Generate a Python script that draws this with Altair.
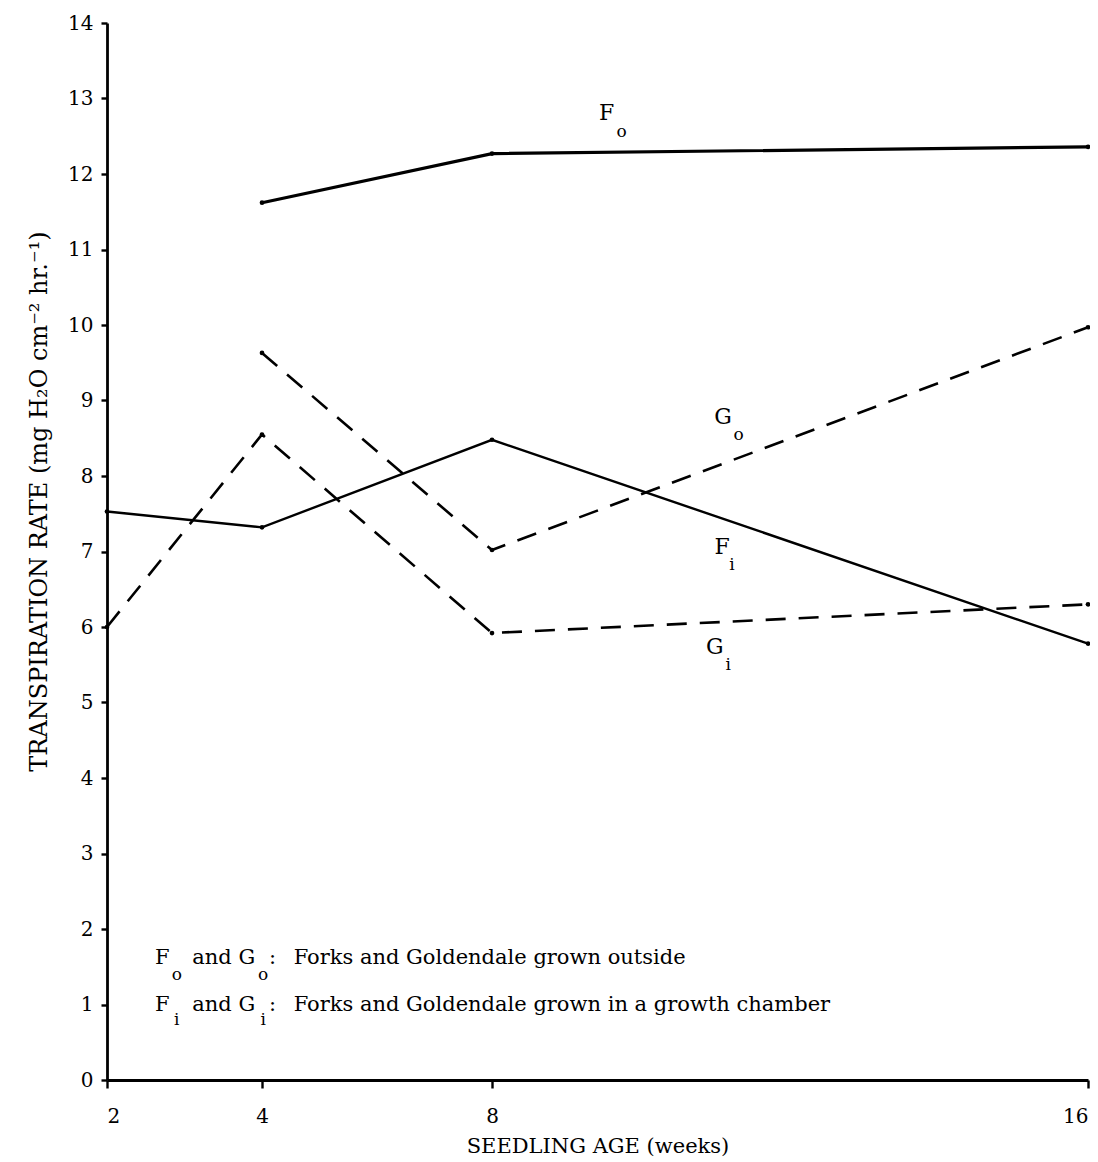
import altair as alt
import pandas as pd

# ---- data ----
fo_x = [4, 8, 16]
fo_y = [11.62, 12.27, 12.36]
go_x = [4, 8, 16]
go_y = [9.63, 7.02, 9.97]
fi_x = [2, 4, 8, 16]
fi_y = [7.53, 7.32, 8.48, 5.78]
gi_x = [2, 4, 8, 16]
gi_y = [6.00, 8.55, 5.92, 6.30]

x_ticks = [2, 4, 8, 16]
y_ticks = list(range(0, 15))

# series annotations (main letter and subscript)
lab_text = ["F", "G", "F", "G"]
lab_x = [9.54, 11.10, 11.09, 10.99]
lab_y = [12.81, 8.78, 7.06, 5.74]
sub_text = ["o", "o", "i", "i"]
sub_x = [9.74, 11.31, 11.22, 11.17]
sub_y = [12.56, 8.54, 6.82, 5.50]

# legend text pieces (left aligned)
leg_text = ["F", "and G", ":", "Forks and Goldendale grown outside",
            "F", "and G", ":", "Forks and Goldendale grown in a growth chamber"]
leg_x = [2.62, 3.10, 4.12, 4.55, 2.62, 3.10, 4.12, 4.55]
leg_y = [1.62, 1.62, 1.62, 1.62, 0.99, 0.99, 0.99, 0.99]
legsub_text = ["o", "o", "i", "i"]
legsub_x = [2.90, 4.02, 2.90, 4.02]
legsub_y = [1.39, 1.39, 0.79, 0.79]

FONT = "DejaVu Serif"

rows = []
for name, xs, ys in [("Fo", fo_x, fo_y), ("Go", go_x, go_y),
                     ("Fi", fi_x, fi_y), ("Gi", gi_x, gi_y)]:
    for a, b in zip(xs, ys):
        rows.append({"series": name, "age": a, "rate": b})
df = pd.DataFrame(rows)

xscale = alt.Scale(domain=[2, 4, 8, 16], range=[0, 155, 385, 981])
yscale = alt.Scale(domain=[0, 14])

X = alt.X("age:Q", scale=xscale,
          axis=alt.Axis(values=x_ticks, format="d", title="SEEDLING AGE (weeks)",
                        titlePadding=9, titleFontSize=21, labelPadding=18, tickSize=8))
Y = alt.Y("rate:Q", scale=yscale,
          axis=alt.Axis(values=y_ticks, format="d",
                        title="TRANSPIRATION RATE  (mg H₂O cm⁻² hr.⁻¹)",
                        titleFontSize=24, titleX=-56, titleY=478,
                        labelPadding=8, tickSize=6))

solid = alt.Chart(df).transform_filter(
    alt.FieldOneOfPredicate(field="series", oneOf=["Fo", "Fi"])
).mark_line(color="black").encode(
    x=X, y=Y, detail="series:N",
    strokeWidth=alt.StrokeWidth("series:N", scale=alt.Scale(domain=["Fo", "Fi"], range=[3.2, 2.4]), legend=None),
)

dashed = alt.Chart(df).transform_filter(
    alt.FieldOneOfPredicate(field="series", oneOf=["Go", "Gi"])
).mark_line(color="black", strokeDash=[20, 13], strokeWidth=2.6).encode(
    x="age:Q", y="rate:Q", detail="series:N"
)

dots = alt.Chart(df).mark_circle(color="black", size=22, opacity=1).encode(
    x="age:Q", y="rate:Q"
)

lab_df = pd.DataFrame({"t": lab_text, "age": lab_x, "rate": lab_y})
sub_df = pd.DataFrame({"t": sub_text, "age": sub_x, "rate": sub_y})
labels = alt.Chart(lab_df).mark_text(font=FONT, fontSize=22, color="black").encode(
    x="age:Q", y="rate:Q", text="t:N")
subs = alt.Chart(sub_df).mark_text(font=FONT, fontSize=17, color="black").encode(
    x="age:Q", y="rate:Q", text="t:N")

leg_df = pd.DataFrame({"t": leg_text, "age": leg_x, "rate": leg_y})
legsub_df = pd.DataFrame({"t": legsub_text, "age": legsub_x, "rate": legsub_y})
legend = alt.Chart(leg_df).mark_text(font=FONT, fontSize=21, color="black", align="left").encode(
    x="age:Q", y="rate:Q", text="t:N")
legsubs = alt.Chart(legsub_df).mark_text(font=FONT, fontSize=17, color="black").encode(
    x="age:Q", y="rate:Q", text="t:N")

chart = alt.layer(solid, dashed, dots, labels, subs, legend, legsubs).properties(
    width=983, height=1057,
    autosize=alt.AutoSizeParams(type="none"),
    padding={"left": 99, "top": 15, "right": 0, "bottom": 80},
    background="white",
).configure_view(stroke=None).configure_axis(
    grid=False, domainColor="black", domainWidth=2.8, tickColor="black", tickWidth=2.4,
    labelFont=FONT, labelFontSize=20, labelColor="black",
    titleFont=FONT, titleFontWeight="normal", titleColor="black",
)

chart.save("out.html", embed_options={"renderer": "svg", "actions": False})
